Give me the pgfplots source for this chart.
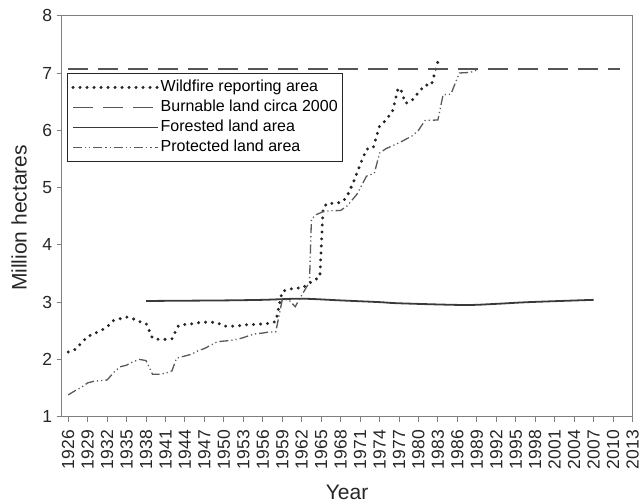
\documentclass[border=0pt]{standalone}
\usepackage{pgfplots}
\pgfplotsset{compat=1.18}
\usepackage{fontspec}
\setmainfont{Liberation Sans}

\definecolor{axisgray}{HTML}{7F7F7F}
\definecolor{firecol}{HTML}{262626}
\definecolor{burncol}{HTML}{555555}
\definecolor{forestcol}{HTML}{3A3A3A}
\definecolor{protcol}{HTML}{5A5A5A}

% Wildfire reporting area (million ha)
\pgfplotstableread{
year val
1926 2.13
1927 2.17
1928 2.28
1929 2.40
1930 2.45
1931 2.50
1932 2.57
1933 2.68
1934 2.71
1935 2.74
1936 2.71
1937 2.66
1938 2.63
1939 2.37
1940 2.35
1941 2.35
1942 2.36
1943 2.59
1944 2.61
1945 2.62
1946 2.64
1947 2.65
1948 2.65
1949 2.64
1950 2.58
1951 2.58
1952 2.58
1953 2.60
1954 2.61
1955 2.61
1956 2.62
1957 2.63
1958 2.66
1959 3.19
1960 3.22
1961 3.25
1962 3.24
1963 3.32
1964.8 3.44
1965.3 4.65
1966 4.73
1967 4.72
1968.3 4.75
1969 4.85
1970 5.10
1971 5.40
1972 5.67
1973 5.69
1974 6.07
1975 6.18
1976 6.33
1976.8 6.70
1977.2 6.74
1978 6.47
1979 6.52
1980 6.66
1981 6.79
1982 6.79
1983 7.20
}\wildfire

% Burnable land circa 2000
\pgfplotstableread{
year val
1926 7.07
2011 7.07
}\burnable

% Forested land area
\pgfplotstableread{
year val
1938 3.02
1944 3.025
1950 3.03
1956 3.04
1962 3.06
1968 3.03
1974 3.00
1977 2.98
1987 2.95
1992 2.97
1997 3.00
2007 3.04
}\forested

% Protected land area
\pgfplotstableread{
year val
1926 1.38
1927 1.45
1928 1.51
1929 1.59
1930 1.62
1931 1.63
1932 1.64
1933 1.77
1934 1.87
1935 1.90
1936 1.96
1937 2.00
1938 1.98
1939 1.74
1940 1.74
1941 1.76
1942 1.80
1942.7 2.02
1944 2.06
1945 2.09
1946 2.15
1947 2.19
1948 2.25
1949 2.31
1950 2.32
1951 2.33
1952 2.35
1953 2.38
1954 2.42
1955 2.45
1956 2.46
1957 2.48
1958 2.48
1959 3.04
1960 3.04
1961 2.92
1962 3.12
1963.2 3.35
1963.5 4.45
1964.3 4.53
1965.5 4.59
1968 4.60
1969 4.68
1970.5 4.88
1972 5.20
1973.2 5.25
1974 5.60
1975 5.68
1977 5.78
1979 5.90
1980 6.00
1981 6.17
1983 6.18
1983.8 6.62
1985 6.63
1986.3 7.00
1988 7.01
1989.2 7.06
}\protectedland

\begin{document}
\begin{tikzpicture}
\useasboundingbox (-61.7pt,-87.3pt) rectangle (579.3pt,416.7pt);
\begin{axis}[
  at={(0pt,0pt)}, anchor=south west,
  scale only axis, width=570.8pt, height=401pt,
  xmin=1925, xmax=2013, ymin=1, ymax=8,
  xtick={1926,1929,...,2013}, ytick={1,2,...,8},
  tick align=outside, tick pos=left, major tick length=5pt,
  axis line style={draw=axisgray, line width=0.9pt},
  every tick/.style={draw=axisgray, line width=0.9pt},
  ticklabel style={font=\fontsize{17.5}{17.5}\selectfont, text=black!85},
  /pgf/number format/assume math mode=true,
  /pgf/number format/1000 sep={},
  xticklabel style={yshift=-5pt, rotate=90, anchor=east},
  yticklabel style={xshift=-1pt},
  xlabel={Year}, ylabel={Million hectares},
  label style={font=\fontsize{21}{21}\selectfont, text=black!85},
  xlabel style={at={(axis description cs:0.5,-0.1895)}, anchor=center},
  ylabel style={at={(axis description cs:-0.0748,0.4955)}, anchor=center},
  legend style={at={(axis description cs:0.0093,0.8564)}, anchor=north west,
    draw=black!85, line width=0.8pt, fill=white,
    font=\fontsize{16}{16}\selectfont,
    inner xsep=4pt, inner ysep=5pt, row sep=2.5pt,
    nodes={inner sep=1pt, text height=12pt, text depth=3.5pt}},
  legend cell align=left,
  legend image code/.code={\draw[#1] (0pt,0pt) -- (85pt,0pt);},
]
\addplot[firecol, line width=3.3pt, line cap=round, line join=round,
  dash pattern=on 0pt off 7pt] table[x=year, y=val] {\wildfire};
\addlegendentry{Wildfire reporting area}
\addplot[burncol, line width=1.5pt, dash pattern=on 20pt off 10pt]
  table[x=year, y=val] {\burnable};
\addlegendentry{Burnable land circa 2000}
\addplot[forestcol, line width=1.8pt, smooth] table[x=year, y=val] {\forested};
\addlegendentry{Forested land area}
\addplot[protcol, line width=1.3pt,
  dash pattern=on 9pt off 3pt on 1.2pt off 3pt on 1.2pt off 3pt]
  table[x=year, y=val] {\protectedland};
\addlegendentry{Protected land area}
\end{axis}
\end{tikzpicture}
\end{document}
